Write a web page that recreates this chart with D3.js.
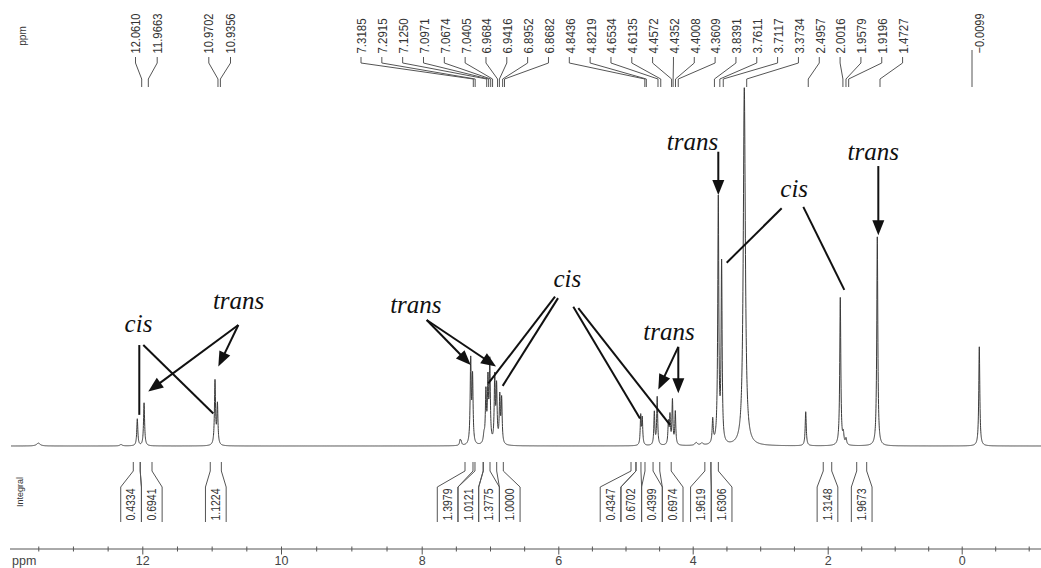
<!DOCTYPE html>
<html><head><meta charset="utf-8">
<script src="https://cdn.jsdelivr.net/npm/d3@7"></script>
<style>body{margin:0;background:#fff}svg{display:block}</style>
</head><body>
<svg id="c" width="1041" height="568"></svg>
<script>
// ---------------- DATA ----------------
// resonance lines: position (ppm), relative height (% of tallest), half-width (ppm)
const peakPpm    = [13.45, 12.29, 12.061, 11.966, 10.9702, 10.9356, 7.470, 7.455, 7.3185, 7.2915, 7.125, 7.0971, 7.0674, 7.0405, 6.9684, 6.9416, 6.8952, 6.8682, 4.8436, 4.8219, 4.6534, 4.6135, 4.4572, 4.4352, 4.4008, 4.3609, 4.07, 3.99, 3.8391, 3.7611, 3.7117, 3.3734, 2.4957, 2.0016, 1.9579, 1.9196, -0.0099, 1.4727];
const peakHeight = [0.8, 0.4, 7.5, 12.0, 17.9, 11.2, 1.4, 1.1, 23.2, 18.4, 2.2, 14.0, 16.8, 22.3, 18.2, 15.4, 12.8, 12.3, 8.1, 7.3, 9.2, 13.4, 6.1, 7.8, 12.3, 9.2, 0.8, 0.6, 6.7, 68.2, 49.7, 100, 9.5, 41.3, 2.8, 1.7, 27.7, 58.4];
const peakWidth  = [0.03, 0.02, 0.009, 0.009, 0.009, 0.009, 0.009, 0.009, 0.009, 0.009, 0.012, 0.009, 0.009, 0.009, 0.009, 0.009, 0.009, 0.009, 0.008, 0.008, 0.008, 0.008, 0.008, 0.008, 0.008, 0.008, 0.02, 0.02, 0.009, 0.009, 0.009, 0.018, 0.009, 0.009, 0.01, 0.01, 0.009, 0.009];

// picked peak labels (top)
const labelPpm = [12.0610, 11.9663, 10.9702, 10.9356, 7.3185, 7.2915, 7.1250, 7.0971, 7.0674, 7.0405, 6.9684, 6.9416, 6.8952, 6.8682, 4.8436, 4.8219, 4.6534, 4.6135, 4.4572, 4.4352, 4.4008, 4.3609, 3.8391, 3.7611, 3.7117, 3.3734, 2.4957, 2.0016, 1.9579, 1.9196, 1.4727, -0.0099];

// integrals: region start / end (ppm) and value
const integralFrom  = [12.13, 12.03, 11.02, 7.366, 7.22, 7.098, 6.902, 4.918, 4.844, 4.71, 4.49, 3.82, 3.73, 2.066, 1.567];
const integralTo    = [12.03, 11.86, 10.86, 7.249, 7.10, 7.00, 6.805, 4.844, 4.77, 4.59, 4.32, 3.73, 3.62, 1.94, 1.418];
const integralValue = [0.4334, 0.6941, 1.1224, 1.3979, 1.0121, 1.3775, 1.0000, 0.4347, 0.6702, 0.4399, 0.6974, 1.9619, 1.6306, 1.3148, 1.9673];

// axis ticks
const majorTicks = [12, 10, 8, 6, 4, 2, 0];
const tickLabels = ["12", "10", "8", "6", "4", "2", "0"];

// annotations (cis / trans), positions in data units [ppm, intensity]
const annText  = ["cis", "trans", "trans", "cis", "trans", "trans", "cis", "trans"];
const annAt    = [[12.044, 31.8], [10.633, 38.3], [8.102, 37.2], [5.911, 44.4], [4.449, 29.6], [4.121, 82.7], [2.660, 69.6], [1.530, 79.9]];
// pointers: [annotation index, from ppm, from intensity, to ppm, to intensity, arrow?]
const pointers = [
  [0, 12.033, 28.2, 12.033, 8.7, 0],
  [0, 11.977, 28.2, 10.994, 9.1, 0],
  [1, 10.637, 33.8, 11.907, 15.2, 1],
  [1, 10.637, 33.8, 10.923, 22.2, 1],
  [2, 7.947, 35.2, 7.3185, 22.6, 1],
  [2, 7.947, 35.2, 6.950, 22.2, 1],
  [3, 6.091, 41.7, 7.062, 17.5, 0],
  [3, 6.047, 41.3, 6.853, 16.8, 0],
  [3, 5.825, 38.9, 4.854, 7.7, 0],
  [3, 5.752, 38.5, 4.435, 5.9, 0],
  [4, 4.319, 27.7, 4.598, 15.8, 1],
  [4, 4.319, 27.7, 4.319, 14.7, 1],
  [5, 3.7611, 82.2, 3.7611, 70.1, 1],
  [6, 2.839, 66.4, 3.636, 51.2, 0],
  [6, 2.530, 66.8, 1.944, 43.6, 0],
  [7, 1.458, 78.2, 1.458, 58.9, 1]
];

// ---------------- LAYOUT ----------------
const W = 1041, H = 568;
const svg = d3.select("#c");
const sans = "'Liberation Sans', Arial, sans-serif";
const narrow = "'Liberation Sans Narrow', 'Arial Narrow', 'Liberation Sans', sans-serif";

// the scanned spectrum, axis and label rows are not perfectly aligned: piecewise scales
const xSpec = d3.scaleLinear()
  .domain([12.061, 10.9702, 7.3185, 4.8436, 3.7611, 3.3734, 1.4727, -0.0099])
  .range([137.3, 215, 470.7, 640.7, 718.3, 744.3, 877.3, 979.3]);
const xAxisScale = d3.scaleLinear()
  .domain(majorTicks)
  .range([142.3, 281, 421.7, 558.3, 692.7, 827.7, 961.7]);
const xLab = d3.scaleLinear()
  .domain([12.061, 7.3185, 3.3734, 1.4727, -0.0099])
  .range([141.7, 473.3, 746.7, 880, 972]);
const y = d3.scaleLinear().domain([0, 100]).range([446, 88]);

// ---------------- SPECTRUM ----------------
function intensity(p) {
  let s = 0;
  for (let i = 0; i < peakPpm.length; i++) {
    const u = (p - peakPpm[i]) / peakWidth[i];
    s += peakHeight[i] / (1 + u * u);
  }
  return s;
}
const pLeft = xSpec.invert(11), pRight = xSpec.invert(W);
let grid = d3.range(pLeft, pRight, -0.0015).concat(peakPpm);
grid.sort((a, b) => b - a);
const specData = grid.map(p => ({p, v: intensity(p)}));
svg.append("path")
  .datum(specData)
  .attr("fill", "none")
  .attr("stroke", "#3a3a3a")
  .attr("stroke-width", 1)
  .attr("d", d3.line().x(d => xSpec(d.p)).y(d => y(d.v)));

// ---------------- PEAK LABELS (top) ----------------
const fmt4 = d3.format(".4f");
// label slots: groups of labels, evenly spaced; textDx = offset of text from its leader line
const labelGroups = [{n: 2, start: 135.5, step: 21.7, dx: 0}, {n: 2, start: 208.8, step: 21.7, dx: 0},
                     {n: 27, start: 361, step: 20.83, dx: 1}, {n: 1, start: 972, step: 0, dx: 8}];
const slots = [];
labelGroups.forEach(g => { for (let i = 0; i < g.n; i++) slots.push({x: g.start + i * g.step, dx: g.dx}); });
const gl = svg.append("g");
labelPpm.forEach((p, i) => {
  const lx = slots[i].x, ex = xLab(p);
  const txt = fmt4(p);
  gl.append("text")
    .attr("transform", `translate(${lx + slots[i].dx},53.5) rotate(-90)`)
    .attr("dy", "0.35em")
    .attr("font-family", narrow)
    .attr("font-size", 12.5)
    .attr("fill", "#333")
    .attr("textLength", txt.length * 5 + 5)
    .attr("lengthAdjust", "spacingAndGlyphs")
    .text(txt);
  gl.append("path")
    .attr("d", slots[i].dx > 4 ? `M${lx},50V87` : `M${lx},57V63L${ex},79V87`)
    .attr("fill", "none").attr("stroke", "#555").attr("stroke-width", 1);
});
svg.append("text")
  .attr("transform", "translate(22,36) rotate(-90)")
  .attr("dy", "0.35em").attr("text-anchor", "middle")
  .attr("font-family", sans).attr("font-size", 10).attr("fill", "#333")
  .text("ppm");

// ---------------- INTEGRALS ----------------
const boxW = 20.7;
let items = integralValue.map((v, i) => {
  const a = xAxisScale(integralFrom[i]), b = xAxisScale(integralTo[i]);
  return {i, v, a, b, c: (a + b) / 2};
});
// dodge: cluster overlapping boxes, centre each cluster near its mean
const clusterCenter = m => d3.mean(m, d => d.c) - Math.max(0, m.length - 2) * 2.5;
let clusters = items.map(d => ({members: [d], center: d.c}));
let changed = true;
while (changed) {
  changed = false;
  clusters.sort((p, q) => p.center - q.center);
  for (let k = 0; k < clusters.length - 1; k++) {
    const A = clusters[k], B = clusters[k + 1];
    const aRight = A.center + A.members.length * boxW / 2;
    const bLeft = B.center - B.members.length * boxW / 2;
    if (aRight > bLeft - 0.5) {
      const m = A.members.concat(B.members);
      clusters.splice(k, 2, {members: m, center: clusterCenter(m)});
      changed = true; break;
    }
  }
}
clusters.forEach(cl => {
  const left0 = cl.center - cl.members.length * boxW / 2;
  cl.members.forEach((d, j) => { d.l = left0 + j * boxW; d.r = d.l + boxW; });
});
const gi = svg.append("g");
items.forEach(d => {
  gi.append("path")
    .attr("d", `M${d.a},462V471L${d.l},487V522M${d.b},462V471L${d.r},487V522`)
    .attr("fill", "none").attr("stroke", "#555").attr("stroke-width", 1);
  gi.append("text")
    .attr("transform", `translate(${(d.l + d.r) / 2},504.5) rotate(-90)`)
    .attr("dy", "0.35em").attr("text-anchor", "middle")
    .attr("font-family", narrow).attr("font-size", 12).attr("fill", "#333")
    .attr("textLength", 32).attr("lengthAdjust", "spacingAndGlyphs")
    .text(fmt4(d.v));
});
svg.append("text")
  .attr("transform", "translate(20,492) rotate(-90)")
  .attr("dy", "0.35em").attr("text-anchor", "middle")
  .attr("font-family", narrow).attr("font-size", 9).attr("fill", "#333")
  .text("Integral");

// ---------------- AXIS ----------------
svg.append("line").attr("x1", 10).attr("x2", W).attr("y1", 549).attr("y2", 549)
  .attr("stroke", "#555").attr("stroke-width", 1);
const minor = d3.range(13.5, -1.01, -0.5).filter(v => !majorTicks.includes(v));
const gMin = svg.append("g").attr("transform", "translate(0,546.5)")
  .call(d3.axisBottom(xAxisScale).tickValues(minor).tickSize(5).tickFormat(""));
const gMaj = svg.append("g").attr("transform", "translate(0,546.5)")
  .call(d3.axisBottom(xAxisScale).tickValues(majorTicks).tickSize(8)
        .tickFormat((d, i) => tickLabels[i]).tickPadding(2));
[gMin, gMaj].forEach(g => {
  g.select(".domain").remove();
  g.selectAll("line").attr("stroke", "#555");
});
gMaj.selectAll("text").attr("font-family", sans).attr("font-size", 12.5).attr("fill", "#444");
svg.append("text").attr("x", 12).attr("y", 565)
  .attr("font-family", sans).attr("font-size", 12.5).attr("fill", "#444").text("ppm");

// ---------------- ANNOTATIONS ----------------
const ga = svg.append("g");
annText.forEach((t, i) => {
  ga.append("text")
    .attr("x", xSpec(annAt[i][0])).attr("y", y(annAt[i][1]))
    .attr("text-anchor", "middle")
    .attr("font-family", "'Liberation Serif', 'Times New Roman', serif")
    .attr("font-style", "italic").attr("font-size", 25).attr("fill", "#111")
    .text(t);
});
const headL = 15, headW = 12;
pointers.forEach(pt => {
  const x1 = xSpec(pt[1]), y1 = y(pt[2]), x2 = xSpec(pt[3]), y2 = y(pt[4]);
  if (!pt[5]) {
    ga.append("line").attr("x1", x1).attr("y1", y1).attr("x2", x2).attr("y2", y2)
      .attr("stroke", "#111").attr("stroke-width", 2);
  } else {
    const dx = x2 - x1, dy = y2 - y1, L = Math.hypot(dx, dy);
    const ux = dx / L, uy = dy / L;
    const bx = x2 - ux * headL, by = y2 - uy * headL;
    ga.append("line").attr("x1", x1).attr("y1", y1).attr("x2", bx + ux * 2).attr("y2", by + uy * 2)
      .attr("stroke", "#111").attr("stroke-width", 2);
    ga.append("path")
      .attr("d", `M${x2},${y2}L${bx - uy * headW / 2},${by + ux * headW / 2}L${bx + uy * headW / 2},${by - ux * headW / 2}Z`)
      .attr("fill", "#111");
  }
});
</script>
</body></html>
